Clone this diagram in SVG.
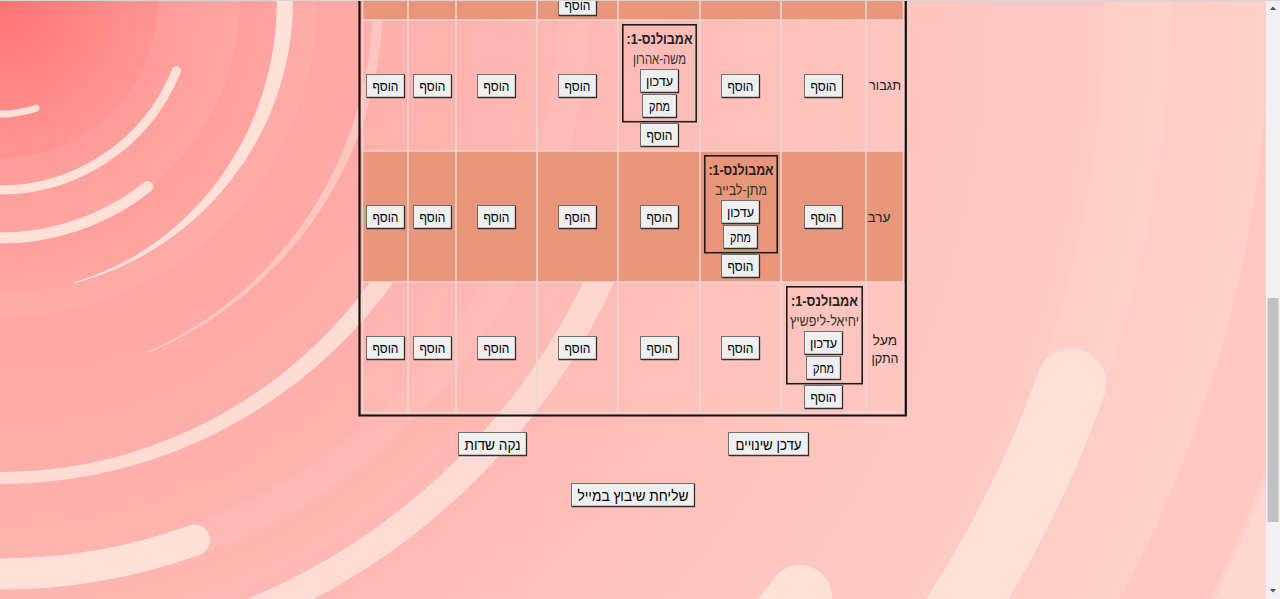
<svg xmlns="http://www.w3.org/2000/svg" width="1280" height="599" viewBox="0 0 1280 599">
<defs>
<radialGradient id="bg" cx="0" cy="0" r="1300" gradientUnits="userSpaceOnUse">
<stop offset="0" stop-color="#ff7272"/>
<stop offset="0.1" stop-color="#ff908d"/>
<stop offset="0.22" stop-color="#ffa5a2"/>
<stop offset="0.45" stop-color="#ffb5b0"/>
<stop offset="0.7" stop-color="#ffc5bf"/>
<stop offset="1" stop-color="#ffd0ca"/>
</radialGradient>
<style>
.sw{fill:none;stroke:#ffe1da;stroke-linecap:round}
.fb{fill:#ffe1da}
.ring{fill:none;stroke:#ffffff}
.face{fill:#efefef;stroke:#707070;stroke-width:1}
.sh{fill:none;stroke:#303030;stroke-width:1.3}
.bt{font-family:"Liberation Sans","DejaVu Sans",Arial,sans-serif;font-size:13.6px;fill:#000;text-anchor:middle;direction:rtl}
.bt.big{font-size:14.5px}
.lbl{font-family:"Liberation Sans","DejaVu Sans",Arial,sans-serif;font-size:13.6px;fill:#222;text-anchor:middle;direction:rtl}
.box{fill:none;stroke:#1e1e1e;stroke-width:1.6}
.ttl{font-family:"Liberation Sans","DejaVu Sans",Arial,sans-serif;font-size:14.5px;font-weight:bold;fill:#222;text-anchor:middle;direction:rtl}
.nm{font-family:"Liberation Sans","DejaVu Sans",Arial,sans-serif;font-size:14.2px;fill:#333;text-anchor:middle;direction:rtl}
.grid{fill:none;stroke:#ead6d2;stroke-width:1.6}
</style>
</defs>

<g id="background">
<rect x="0" y="0" width="1280" height="599" fill="url(#bg)"/>
<circle class="ring" cx="0" cy="0" r="199" stroke-width="82" stroke-opacity="0.08"/>
<circle class="ring" cx="0" cy="0" r="305" stroke-width="24" stroke-opacity="0.06"/>
<circle class="ring" cx="0" cy="0" r="574" stroke-width="30" stroke-opacity="0.07"/>
<circle class="ring" cx="0" cy="0" r="1138" stroke-width="66" stroke-opacity="0.06"/>
<circle cx="0" cy="0" r="1310" fill="none" stroke="#ff9a92" stroke-opacity="0.12" stroke-width="80"/>
<circle class="ring" cx="0" cy="0" r="1430" stroke-width="150" stroke-opacity="0.16"/>
<path class="sw" stroke-width="7" d="M-10,113.6 A114,114 0 0 0 36,108.2"/>
<path class="sw" stroke-width="9" d="M-10,189.7 A190,190 0 0 0 176.4,70.7"/>
<path class="sw" stroke-width="11" d="M-10,237.8 A238,238 0 0 0 147.8,186.6"/>
<path class="fb" d="M293,0 A293,293 0 0 1 75.8,283 L71.7,283 A277,293 0 0 0 277,0 Z"/>
<path class="fb" opacity="0.5" d="M383,0 A383,383 0 0 1 149.6,352.6 L145.7,352.6 A373,383 0 0 0 373,0 Z"/>
<path class="fb" opacity="0.9" d="M0,484 A484,484 0 0 0 419.2,242 L400.1,236 A462,472 0 0 1 0,472 Z"/>
<path class="sw" stroke-width="31" d="M-20,573.6 A574,574 0 0 0 194.4,540.1"/>
<path class="sw" stroke-width="28" opacity="0.85" d="M622,226.4 A662,662 0 0 1 226.4,622"/>
<path class="sw" stroke-width="70" d="M1071.4,383.6 A1138,1138 0 0 1 932.2,652.7"/>
<path class="sw" stroke-width="64" d="M800,597 A998,998 0 0 1 705.8,705.8"/>
</g>

<g id="table">
<rect x="361" y="0" width="544" height="413" fill="#ffc8c3" opacity="0.22"/>
<rect x="361" y="0" width="544" height="20" fill="#e9967a"/>
<rect x="361" y="151" width="544" height="131" fill="#e9967a"/>
<path class="grid" d="M408,0V412 M456,0V412 M537,0V412 M618,0V412 M700,0V412 M781,0V412 M866,0V412 M362,20H903 M362,151H903 M362,282H903 M362.5,0V412.5H903.5V0"/>
<path fill="none" stroke="#111" stroke-width="2.2" d="M359.5,-5V415.5H905.8V-5"/>
</g>

<g id="connectors"></g>

<g id="row-labels">
<text class="lbl" x="885" y="90" textLength="32" lengthAdjust="spacingAndGlyphs">תגבור</text>
<text class="lbl" x="879" y="221.5">ערב</text>
<text class="lbl" x="885" y="344.5">מעל</text>
<text class="lbl" x="885" y="362.5" textLength="27" lengthAdjust="spacingAndGlyphs">התקן</text>
</g>

<g id="row0-buttons">
<g id="add-r0-c4"><rect class="face" x="558.5" y="-7.5" width="38" height="23"/><path class="sh" d="M596.5,-7V15.5H559"/><text class="bt" x="577.5" y="10" textLength="26" lengthAdjust="spacingAndGlyphs">הוסף</text></g>
</g>

<g id="row1-buttons">
<g id="add-r1-c1"><rect class="face" x="366.5" y="74.5" width="38" height="23"/><path class="sh" d="M404.5,75V97.5H367"/><text class="bt" x="385.5" y="91" textLength="26" lengthAdjust="spacingAndGlyphs">הוסף</text></g>
<g id="add-r1-c2"><rect class="face" x="413.5" y="74.5" width="38" height="23"/><path class="sh" d="M451.5,75V97.5H414"/><text class="bt" x="432.5" y="91" textLength="26" lengthAdjust="spacingAndGlyphs">הוסף</text></g>
<g id="add-r1-c3"><rect class="face" x="477.5" y="74.5" width="38" height="23"/><path class="sh" d="M515.5,75V97.5H478"/><text class="bt" x="496.5" y="91" textLength="26" lengthAdjust="spacingAndGlyphs">הוסף</text></g>
<g id="add-r1-c4"><rect class="face" x="558.5" y="74.5" width="38" height="23"/><path class="sh" d="M596.5,75V97.5H559"/><text class="bt" x="577.5" y="91" textLength="26" lengthAdjust="spacingAndGlyphs">הוסף</text></g>
<g id="add-r1-c6"><rect class="face" x="721.5" y="74.5" width="38" height="23"/><path class="sh" d="M759.5,75V97.5H722"/><text class="bt" x="740.5" y="91" textLength="26" lengthAdjust="spacingAndGlyphs">הוסף</text></g>
<g id="add-r1-c7"><rect class="face" x="804.5" y="74.5" width="38" height="23"/><path class="sh" d="M842.5,75V97.5H805"/><text class="bt" x="823.5" y="91" textLength="26" lengthAdjust="spacingAndGlyphs">הוסף</text></g>
</g>

<g id="ambulance-tigbur">
<rect class="box" x="622.8" y="24.8" width="73.4" height="96.9"/>
<text class="ttl" x="659.5" y="43.5" textLength="66" lengthAdjust="spacingAndGlyphs">אמבולנס-1:</text>
<text class="nm" x="659.5" y="64" textLength="53" lengthAdjust="spacingAndGlyphs">משה-אהרון</text>
<g id="upd-tigbur"><rect class="face" x="640.5" y="69.5" width="38" height="23"/><path class="sh" d="M678.5,70V92.5H641"/><text class="bt" x="659.5" y="86" textLength="27" lengthAdjust="spacingAndGlyphs">עדכון</text></g>
<g id="del-tigbur"><rect class="face" x="642.5" y="94.5" width="34" height="23"/><path class="sh" d="M676.5,95V117.5H643"/><text class="bt" x="659.5" y="111" textLength="21" lengthAdjust="spacingAndGlyphs">מחק</text></g>
</g>
<g id="add-r1-c5"><rect class="face" x="640.5" y="123.5" width="38" height="23"/><path class="sh" d="M678.5,124V146.5H641"/><text class="bt" x="659.5" y="140" textLength="26" lengthAdjust="spacingAndGlyphs">הוסף</text></g>

<g id="row2-buttons">
<g id="add-r2-c1"><rect class="face" x="366.5" y="205.5" width="38" height="23"/><path class="sh" d="M404.5,206V228.5H367"/><text class="bt" x="385.5" y="222" textLength="26" lengthAdjust="spacingAndGlyphs">הוסף</text></g>
<g id="add-r2-c2"><rect class="face" x="413.5" y="205.5" width="38" height="23"/><path class="sh" d="M451.5,206V228.5H414"/><text class="bt" x="432.5" y="222" textLength="26" lengthAdjust="spacingAndGlyphs">הוסף</text></g>
<g id="add-r2-c3"><rect class="face" x="477.5" y="205.5" width="38" height="23"/><path class="sh" d="M515.5,206V228.5H478"/><text class="bt" x="496.5" y="222" textLength="26" lengthAdjust="spacingAndGlyphs">הוסף</text></g>
<g id="add-r2-c4"><rect class="face" x="558.5" y="205.5" width="38" height="23"/><path class="sh" d="M596.5,206V228.5H559"/><text class="bt" x="577.5" y="222" textLength="26" lengthAdjust="spacingAndGlyphs">הוסף</text></g>
<g id="add-r2-c5"><rect class="face" x="640.5" y="205.5" width="38" height="23"/><path class="sh" d="M678.5,206V228.5H641"/><text class="bt" x="659.5" y="222" textLength="26" lengthAdjust="spacingAndGlyphs">הוסף</text></g>
<g id="add-r2-c7"><rect class="face" x="804.5" y="205.5" width="38" height="23"/><path class="sh" d="M842.5,206V228.5H805"/><text class="bt" x="823.5" y="222" textLength="26" lengthAdjust="spacingAndGlyphs">הוסף</text></g>
</g>

<g id="ambulance-erev">
<rect class="box" x="704.8" y="155.8" width="72.4" height="96.9"/>
<text class="ttl" x="741" y="174.5" textLength="65" lengthAdjust="spacingAndGlyphs">אמבולנס-1:</text>
<text class="nm" x="741" y="195" textLength="52" lengthAdjust="spacingAndGlyphs">מתן-לבייב</text>
<g id="upd-erev"><rect class="face" x="721.5" y="200.5" width="38" height="23"/><path class="sh" d="M759.5,201V223.5H722"/><text class="bt" x="740.5" y="217" textLength="27" lengthAdjust="spacingAndGlyphs">עדכון</text></g>
<g id="del-erev"><rect class="face" x="723.5" y="225.5" width="34" height="23"/><path class="sh" d="M757.5,226V248.5H724"/><text class="bt" x="740.5" y="242" textLength="21" lengthAdjust="spacingAndGlyphs">מחק</text></g>
</g>
<g id="add-r2-c6"><rect class="face" x="721.5" y="254.5" width="38" height="23"/><path class="sh" d="M759.5,255V277.5H722"/><text class="bt" x="740.5" y="271" textLength="26" lengthAdjust="spacingAndGlyphs">הוסף</text></g>

<g id="row3-buttons">
<g id="add-r3-c1"><rect class="face" x="366.5" y="336.5" width="38" height="23"/><path class="sh" d="M404.5,337V359.5H367"/><text class="bt" x="385.5" y="353" textLength="26" lengthAdjust="spacingAndGlyphs">הוסף</text></g>
<g id="add-r3-c2"><rect class="face" x="413.5" y="336.5" width="38" height="23"/><path class="sh" d="M451.5,337V359.5H414"/><text class="bt" x="432.5" y="353" textLength="26" lengthAdjust="spacingAndGlyphs">הוסף</text></g>
<g id="add-r3-c3"><rect class="face" x="477.5" y="336.5" width="38" height="23"/><path class="sh" d="M515.5,337V359.5H478"/><text class="bt" x="496.5" y="353" textLength="26" lengthAdjust="spacingAndGlyphs">הוסף</text></g>
<g id="add-r3-c4"><rect class="face" x="558.5" y="336.5" width="38" height="23"/><path class="sh" d="M596.5,337V359.5H559"/><text class="bt" x="577.5" y="353" textLength="26" lengthAdjust="spacingAndGlyphs">הוסף</text></g>
<g id="add-r3-c5"><rect class="face" x="640.5" y="336.5" width="38" height="23"/><path class="sh" d="M678.5,337V359.5H641"/><text class="bt" x="659.5" y="353" textLength="26" lengthAdjust="spacingAndGlyphs">הוסף</text></g>
<g id="add-r3-c6"><rect class="face" x="721.5" y="336.5" width="38" height="23"/><path class="sh" d="M759.5,337V359.5H722"/><text class="bt" x="740.5" y="353" textLength="26" lengthAdjust="spacingAndGlyphs">הוסף</text></g>
</g>

<g id="ambulance-maal-hateken">
<rect class="box" x="786.8" y="286.8" width="75.4" height="96.9"/>
<text class="ttl" x="824.5" y="305.5" textLength="67" lengthAdjust="spacingAndGlyphs">אמבולנס-1:</text>
<text class="nm" x="824.5" y="326" textLength="69" lengthAdjust="spacingAndGlyphs">יחיאל-ליפשיץ</text>
<g id="upd-maal"><rect class="face" x="804.5" y="331.5" width="38" height="23"/><path class="sh" d="M842.5,332V354.5H805"/><text class="bt" x="823.5" y="348" textLength="27" lengthAdjust="spacingAndGlyphs">עדכון</text></g>
<g id="del-maal"><rect class="face" x="806.5" y="356.5" width="34" height="23"/><path class="sh" d="M840.5,357V379.5H807"/><text class="bt" x="823.5" y="373" textLength="21" lengthAdjust="spacingAndGlyphs">מחק</text></g>
</g>
<g id="add-r3-c7"><rect class="face" x="804.5" y="385.5" width="38" height="23"/><path class="sh" d="M842.5,386V408.5H805"/><text class="bt" x="823.5" y="402" textLength="26" lengthAdjust="spacingAndGlyphs">הוסף</text></g>

<g id="bottom-buttons">
<g id="btn-clear"><rect class="face" x="458.5" y="432.5" width="68" height="23"/><path class="sh" d="M526.5,433V455.5H459"/><text class="bt big" x="492.5" y="449.5" textLength="56" lengthAdjust="spacingAndGlyphs">נקה שדות</text></g>
<g id="btn-update"><rect class="face" x="728.5" y="432.5" width="80" height="23"/><path class="sh" d="M808.5,433V455.5H729"/><text class="bt big" x="768.5" y="449.5" textLength="66" lengthAdjust="spacingAndGlyphs">עדכן שינויים</text></g>
<g id="btn-mail"><rect class="face" x="571.5" y="483.5" width="123" height="23"/><path class="sh" d="M694.5,484V506.5H572"/><text class="bt big" x="633" y="500.5" textLength="111" lengthAdjust="spacingAndGlyphs">שליחת שיבוץ במייל</text></g>
</g>

<g id="scrollbar">
<rect x="1266" y="0" width="14" height="599" fill="#f1f1f1"/>
<rect x="1267.5" y="298" width="11" height="224" fill="#c1c1c1"/>
<path d="M1270,10 L1276,10 L1273,6.5 Z" fill="#505050"/>
<path d="M1270,589 L1276,589 L1273,592.5 Z" fill="#505050"/>
</g>
<rect x="0" y="0" width="1280" height="1" fill="#d6d6d8"/>
</svg>
